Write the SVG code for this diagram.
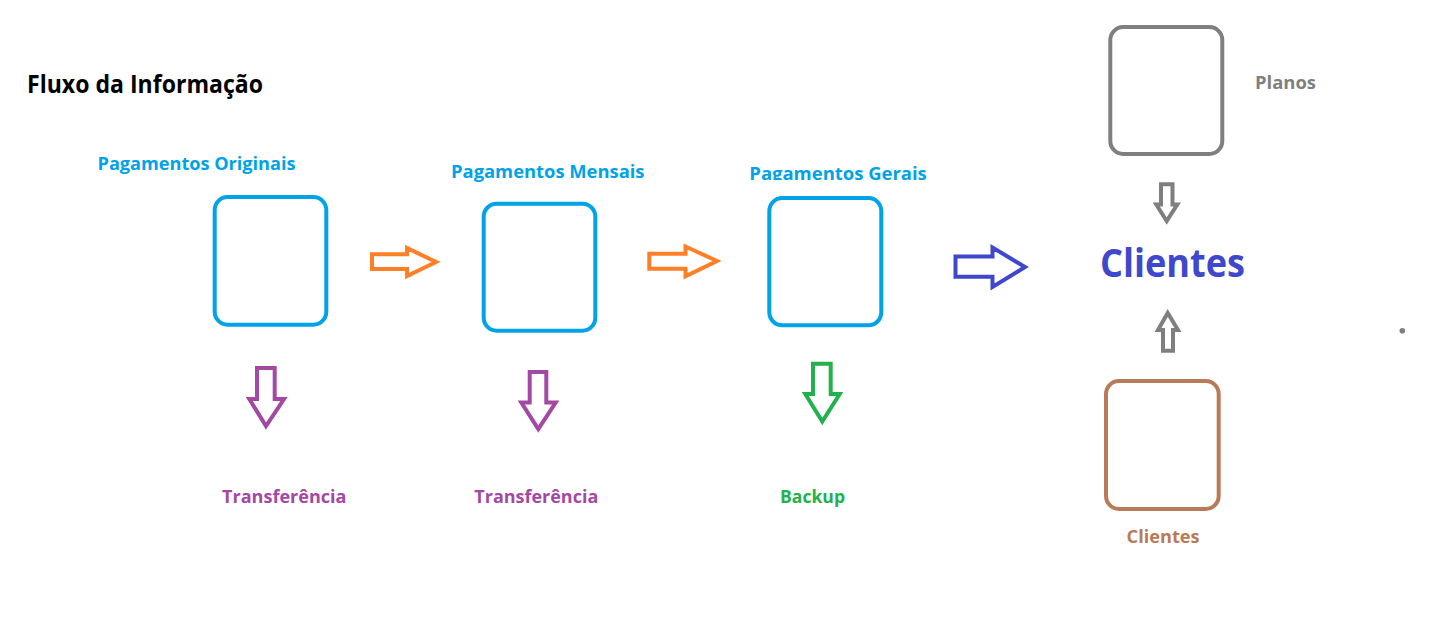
<svg xmlns="http://www.w3.org/2000/svg" width="1450" height="628" viewBox="0 0 1450 628">
  <style>
    text { font-family: "Open Sans", "Liberation Sans", sans-serif; font-weight: bold; }
    .box { fill: none; stroke-width: 4; }
    .blue { stroke: #00a2e8; }
    .lbl { font-size: 18px; }
    .arrow { fill: none; stroke-width: 4; stroke-linejoin: miter; stroke-miterlimit: 10; }
  </style>
  <defs>
    <clipPath id="clipGerais">
      <rect x="700" y="140" width="300" height="40"/>
    </clipPath>
  </defs>
  <rect width="1450" height="628" fill="#ffffff"/>

  <text id="title" x="27" y="93.3" font-size="25.6" fill="#000000" textLength="236" lengthAdjust="spacingAndGlyphs">Fluxo da Informação</text>

  <g id="node-pagamentos-originais">
    <text class="lbl" x="97.5" y="170" fill="#00a2e8" textLength="198" lengthAdjust="spacingAndGlyphs">Pagamentos Originais</text>
    <rect class="box blue" x="214.7" y="197" width="111.6" height="127.7" rx="13"/>
  </g>

  <g id="node-pagamentos-mensais">
    <text class="lbl" x="451" y="178.3" fill="#00a2e8" textLength="193.5" lengthAdjust="spacingAndGlyphs">Pagamentos Mensais</text>
    <rect class="box blue" x="483.7" y="203.7" width="111.6" height="127" rx="13"/>
  </g>

  <g id="node-pagamentos-gerais">
    <text class="lbl" x="749.3" y="179.5" fill="#00a2e8" clip-path="url(#clipGerais)" textLength="177.5" lengthAdjust="spacingAndGlyphs">Pagamentos Gerais</text>
    <rect class="box blue" x="769.3" y="198" width="112" height="127.3" rx="13"/>
  </g>

  <g id="node-transferencia-1">
    <text class="lbl" x="222" y="502.7" fill="#a349a4" textLength="124.5" lengthAdjust="spacingAndGlyphs">Transferência</text>
  </g>

  <g id="node-transferencia-2">
    <text class="lbl" x="474.3" y="503.3" fill="#a349a4" textLength="124" lengthAdjust="spacingAndGlyphs">Transferência</text>
  </g>

  <g id="node-backup">
    <text class="lbl" x="780" y="502.7" fill="#22b14c" textLength="65" lengthAdjust="spacingAndGlyphs">Backup</text>
  </g>

  <g id="node-clientes-central">
    <text x="1100" y="276.7" font-size="38.8" fill="#3f48cc" textLength="145" lengthAdjust="spacingAndGlyphs">Clientes</text>
  </g>

  <g id="node-planos">
    <rect class="box" stroke="#7f7f7f" x="1110.3" y="27" width="112" height="127" rx="13"/>
    <text class="lbl" x="1255" y="89" fill="#7f7f7f" textLength="61" lengthAdjust="spacingAndGlyphs">Planos</text>
  </g>

  <g id="node-clientes">
    <rect class="box" stroke="#b97a57" x="1106" y="381" width="112.7" height="128" rx="13"/>
    <text class="lbl" x="1126.6" y="543.3" fill="#b97a57" textLength="73" lengthAdjust="spacingAndGlyphs">Clientes</text>
  </g>

  <g id="dot">
    <circle cx="1402.3" cy="330.7" r="2.8" fill="#7f7f7f"/>
  </g>

  <g id="connectors">
    <polygon class="arrow" stroke="#ff7f27" points="372,254.3 407,254.3 407,248 436,262 407,276 407,269 372,269"/>
    <polygon class="arrow" stroke="#ff7f27" points="649.3,253.7 685.5,253.7 685.5,246.5 717,261 685.5,276.3 685.5,268.7 649.3,268.7"/>
    <polygon class="arrow" stroke="#3f48cc" stroke-width="4.5" points="955.5,256.5 992.5,256.5 992.5,247.5 1025,267 992.5,287 992.5,276.8 955.5,276.8"/>
    <polygon class="arrow" stroke="#a349a4" points="257,368 274.7,368 274.7,399 284,399 266,426 249.3,399 257,399"/>
    <polygon class="arrow" stroke="#a349a4" points="529.7,372 546.3,372 546.3,402.5 555.7,402.5 538.3,429 521.3,402.5 529.7,402.5"/>
    <polygon class="arrow" stroke="#22b14c" points="813,363.7 830.7,363.7 830.7,394 839.7,394 822.3,421.5 805.3,394 813,394"/>
    <polygon class="arrow" stroke="#7f7f7f" points="1161,184.3 1172.5,184.3 1172.5,204.5 1177.3,204.5 1166.7,221 1156.3,204.5 1161,204.5"/>
    <polygon class="arrow" stroke="#7f7f7f" points="1163,350.7 1173,350.7 1173,330 1178,330 1167.7,313 1158,330 1163,330"/>
  </g>
</svg>
